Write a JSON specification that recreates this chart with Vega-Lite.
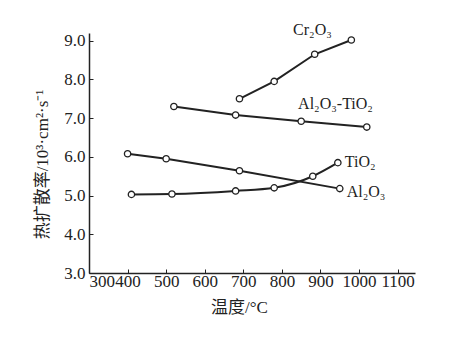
{
  "$schema": "https://vega.github.io/schema/vega-lite/v6.json",
  "autosize": "none",
  "width": 326,
  "height": 240,
  "padding": {"left": 89, "top": 33, "right": 35, "bottom": 64},
  "background": "white",
  "config": {
    "view": {"stroke": null},
    "font": "Liberation Serif, Noto Sans CJK SC",
    "axis": {
      "domainColor": "#222",
      "domainWidth": 1.5,
      "tickColor": "#222",
      "tickWidth": 1,
      "tickSize": -4,
      "grid": false,
      "labelOverlap": false,
      "labelFont": "Liberation Serif",
      "labelFontSize": 17,
      "labelColor": "#222",
      "titleFont": "Liberation Serif, Noto Sans CJK SC",
      "titleFontSize": 17,
      "titleFontWeight": "normal",
      "titleColor": "#222"
    }
  },
  "datasets": {
    "series": [
      {"s": "Al2O3", "t": 400, "v": 6.08},
      {"s": "Al2O3", "t": 500, "v": 5.95},
      {"s": "Al2O3", "t": 690, "v": 5.64},
      {"s": "Al2O3", "t": 950, "v": 5.18},
      {"s": "TiO2", "t": 410, "v": 5.03},
      {"s": "TiO2", "t": 515, "v": 5.04},
      {"s": "TiO2", "t": 680, "v": 5.12},
      {"s": "TiO2", "t": 780, "v": 5.2},
      {"s": "TiO2", "t": 880, "v": 5.5},
      {"s": "TiO2", "t": 945, "v": 5.85},
      {"s": "Cr2O3", "t": 690, "v": 7.5},
      {"s": "Cr2O3", "t": 780, "v": 7.95},
      {"s": "Cr2O3", "t": 885, "v": 8.65},
      {"s": "Cr2O3", "t": 980, "v": 9.02},
      {"s": "Al2O3-TiO2", "t": 520, "v": 7.3},
      {"s": "Al2O3-TiO2", "t": 680, "v": 7.08},
      {"s": "Al2O3-TiO2", "t": 850, "v": 6.92},
      {"s": "Al2O3-TiO2", "t": 1020, "v": 6.77}
    ],
    "labels": [
      {"label": "Cr₂O₃", "t": 829, "v": 9.28},
      {"label": "Al₂O₃-TiO₂", "t": 842, "v": 7.36},
      {"label": "TiO₂", "t": 963, "v": 5.87},
      {"label": "Al₂O₃", "t": 968, "v": 5.1}
    ]
  },
  "layer": [
    {
      "data": {"name": "series"},
      "transform": [{"filter": "datum.s !== 'TiO2'"}],
      "mark": {"type": "line", "color": "#222", "strokeWidth": 2},
      "encoding": {
        "x": {
          "field": "t", "type": "quantitative",
          "scale": {"domain": [300, 1145], "nice": false, "zero": false},
          "axis": {"values": [300, 400, 500, 600, 700, 800, 900, 1000, 1100], "format": "d", "title": "温度/°C", "labelPadding": 4, "titlePadding": 10, "titleX": 150, "labelOverlap": false}
        },
        "y": {
          "field": "v", "type": "quantitative",
          "scale": {"domain": [3, 9.2], "nice": false, "zero": false},
          "axis": {"values": [3, 4, 5, 6, 7, 8, 9], "tickCount": 7, "format": ".1f", "title": "热扩散率/10³·cm²·s⁻¹", "labelPadding": 8, "titlePadding": 12, "titleY": 131, "labelOverlap": false, "labelBound": false}
        },
        "detail": {"field": "s"}
      }
    },
    {
      "data": {"name": "series"},
      "transform": [{"filter": "datum.s === 'TiO2'"}],
      "mark": {"type": "line", "color": "#222", "strokeWidth": 2, "interpolate": "monotone"},
      "encoding": {
        "x": {"field": "t", "type": "quantitative"},
        "y": {"field": "v", "type": "quantitative"}
      }
    },
    {
      "data": {"name": "series"},
      "mark": {"type": "point", "shape": "circle", "filled": true, "fill": "white", "stroke": "#222", "strokeWidth": 1.3, "size": 40, "opacity": 1},
      "encoding": {
        "x": {"field": "t", "type": "quantitative"},
        "y": {"field": "v", "type": "quantitative"}
      }
    },
    {
      "data": {"name": "labels"},
      "mark": {"type": "text", "align": "left", "baseline": "middle", "font": "Liberation Serif", "fontSize": 16, "color": "#222"},
      "encoding": {
        "x": {"field": "t", "type": "quantitative"},
        "y": {"field": "v", "type": "quantitative"},
        "text": {"field": "label"}
      }
    }
  ]
}
